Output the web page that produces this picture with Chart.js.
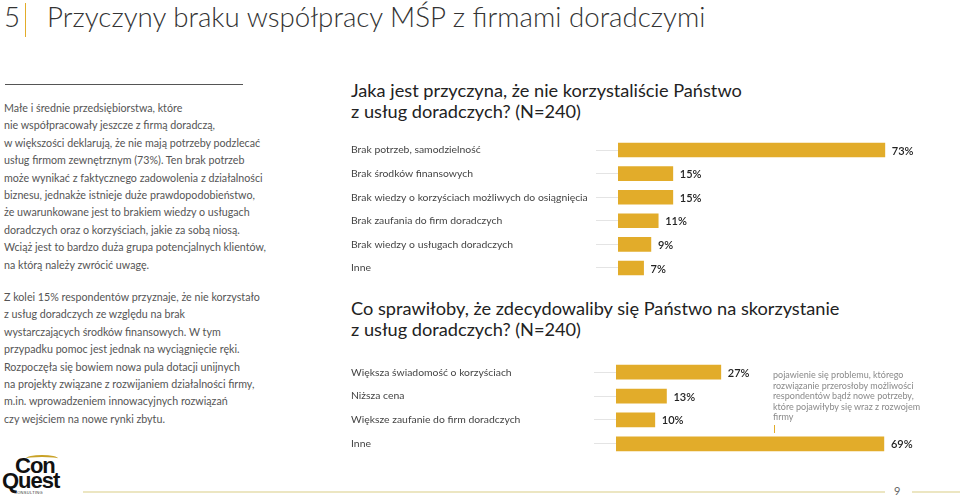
<!DOCTYPE html>
<html lang="pl">
<head>
<meta charset="utf-8">
<script src="https://cdn.jsdelivr.net/npm/chart.js@4.4.1/dist/chart.umd.min.js"></script>
<style>
  html, body { margin: 0; padding: 0; background: #fff; overflow: hidden; }
  body { width: 960px; height: 497px; position: relative; font-family: Lato, "Open Sans", sans-serif; }
  .abs { position: absolute; white-space: nowrap; }
  .title { left: 47px; top: 0px; font-size: 27.7px; font-weight: 300; color: #333; line-height: 34px; }
  .num { left: 4px; top: 0px; font-size: 27.7px; font-weight: 300; color: #333; line-height: 34px; }
  .vbar { left: 25px; top: 3px; width: 1px; height: 34px; background: #e2ac2a; }
  .rule { left: 5px; top: 84px; width: 238px; height: 1px; background: #555; }
  .para { left: 4px; font-size: 10.7px; color: #555; line-height: 17.4px; }
  .qtitle { left: 351px; font-size: 18.2px; color: #222; line-height: 21px; }
  .note { left: 773px; top: 370px; font-size: 9px; color: #8a8a8a; line-height: 10.6px; }
  .notebar { left: 774px; top: 425px; width: 1px; height: 8px; background: #e2ac2a; }
  canvas { position: absolute; }
  .footline { top: 491px; height: 2px; background: #ece6c2; }
  .page { left: 894px; top: 484px; font-size: 11px; color: #666; }
  .logo { font-family: "Liberation Sans Narrow", "Liberation Sans", sans-serif; font-weight: bold; color: #111; font-size: 22px; line-height: 16px; letter-spacing: -1px; }
  .swoosh { left: 26px; top: 455px; width: 32px; height: 5px; border-top: 2px solid #c9a227; border-radius: 50% 50% 0 0; }
  .consult { left: 14px; top: 490px; font-size: 4px; color: #333; letter-spacing: 0.3px; font-family: "Liberation Sans", sans-serif; }
</style>
</head>
<body>
<div class="abs num">5</div>
<div class="abs vbar"></div>
<div class="abs title">Przyczyny braku współpracy MŚP z firmami doradczymi</div>

<div class="abs rule"></div>
<div class="abs para" style="top:99px">Małe i średnie przedsiębiorstwa, które<br>nie współpracowały jeszcze z firmą doradczą,<br>w większości deklarują, że nie mają potrzeby podzlecać<br>usług firmom zewnętrznym (73%). Ten brak potrzeb<br>może wynikać z faktycznego zadowolenia z działalności<br>biznesu, jednakże istnieje duże prawdopodobieństwo,<br>że uwarunkowane jest to brakiem wiedzy o usługach<br>doradczych oraz o korzyściach, jakie za sobą niosą.<br>Wciąż jest to bardzo duża grupa potencjalnych klientów,<br>na którą należy zwrócić uwagę.</div>
<div class="abs para" style="top:288px">Z kolei 15% respondentów przyznaje, że nie korzystało<br>z usług doradczych ze względu na brak<br>wystarczających środków finansowych. W tym<br>przypadku pomoc jest jednak na wyciągnięcie ręki.<br>Rozpoczęła się bowiem nowa pula dotacji unijnych<br>na projekty związane z rozwijaniem działalności firmy,<br>m.in. wprowadzeniem innowacyjnych rozwiązań<br>czy wejściem na nowe rynki zbytu.</div>

<div class="abs qtitle" style="top:80px">Jaka jest przyczyna, że nie korzystaliście Państwo<br>z usług doradczych? (N=240)</div>
<canvas id="c1" width="596" height="160" style="left:351px; top:129px"></canvas>

<div class="abs qtitle" style="top:298px">Co sprawiłoby, że zdecydowaliby się Państwo na skorzystanie<br>z usług doradczych? (N=240)</div>
<canvas id="c2" width="595" height="114" style="left:351px; top:351px"></canvas>

<div class="abs note">pojawienie się problemu, którego<br>rozwiązanie przerosłoby możliwości<br>respondentów bądź nowe potrzeby,<br>które pojawiłyby się wraz z rozwojem<br>firmy</div>
<div class="abs notebar"></div>

<div class="abs swoosh"></div>
<div class="abs logo" style="left:15px; top:458px">Con</div>
<div class="abs logo" style="left:2px; top:473px">Quest</div>
<div class="abs consult">CONSULTING</div>
<div class="abs footline" style="left:83px; width:802px"></div>
<div class="abs page">9</div>
<div class="abs footline" style="left:912px; width:48px"></div>

<script>
// pytanie 1
const reasonLabels = ['Brak potrzeb, samodzielność', 'Brak środków finansowych', 'Brak wiedzy o korzyściach możliwych do osiągnięcia', 'Brak zaufania do firm doradczych', 'Brak wiedzy o usługach doradczych', 'Inne'];
const reasonValues = [73, 15, 15, 11, 9, 7];

// pytanie 2
const factorLabels = ['Większa świadomość o korzyściach', 'Niższa cena', 'Większe zaufanie do firm doradczych', 'Inne'];
const factorValues = [27, 13, 10, 69];

const barColor = '#e2ac2a';

// etykiety z wartością obok słupka
const valueLabels = {
  id: 'valueLabels',
  afterDatasetsDraw(chart) {
    const ctx = chart.ctx;
    const meta = chart.getDatasetMeta(0);
    const data = chart.data.datasets[0].data;
    ctx.save();
    ctx.font = '600 11px Lato';
    ctx.fillStyle = '#222';
    ctx.textBaseline = 'middle';
    meta.data.forEach((bar, i) => {
      ctx.fillText(data[i] + '%', bar.x + 7, bar.y + 1);
    });
    ctx.restore();
  }
};

function barChart(id, labels, values, maxX, axisWidth) {
  return new Chart(document.getElementById(id), {
    type: 'bar',
    data: {
      labels: labels,
      datasets: [{ data: values, backgroundColor: barColor, borderWidth: 0, barThickness: 14 }]
    },
    options: {
      indexAxis: 'y',
      responsive: false,
      animation: false,
      layout: { padding: 0 },
      plugins: { legend: { display: false }, tooltip: { enabled: false } },
      scales: {
        x: { display: false, min: 0, max: maxX },
        y: {
          afterFit: (scale) => { scale.width = axisWidth; },
          border: { display: false },
          grid: { offset: false, drawOnChartArea: false, tickLength: 22, color: '#e4e4e4' },
          ticks: { crossAlign: 'far', color: '#444', font: { family: 'Lato', size: 10.4 } }
        }
      }
    },
    plugins: [valueLabels]
  });
}

barChart('c1', reasonLabels, reasonValues, 90, 267);
barChart('c2', factorLabels, factorValues, 85, 265);
</script>
</body>
</html>
